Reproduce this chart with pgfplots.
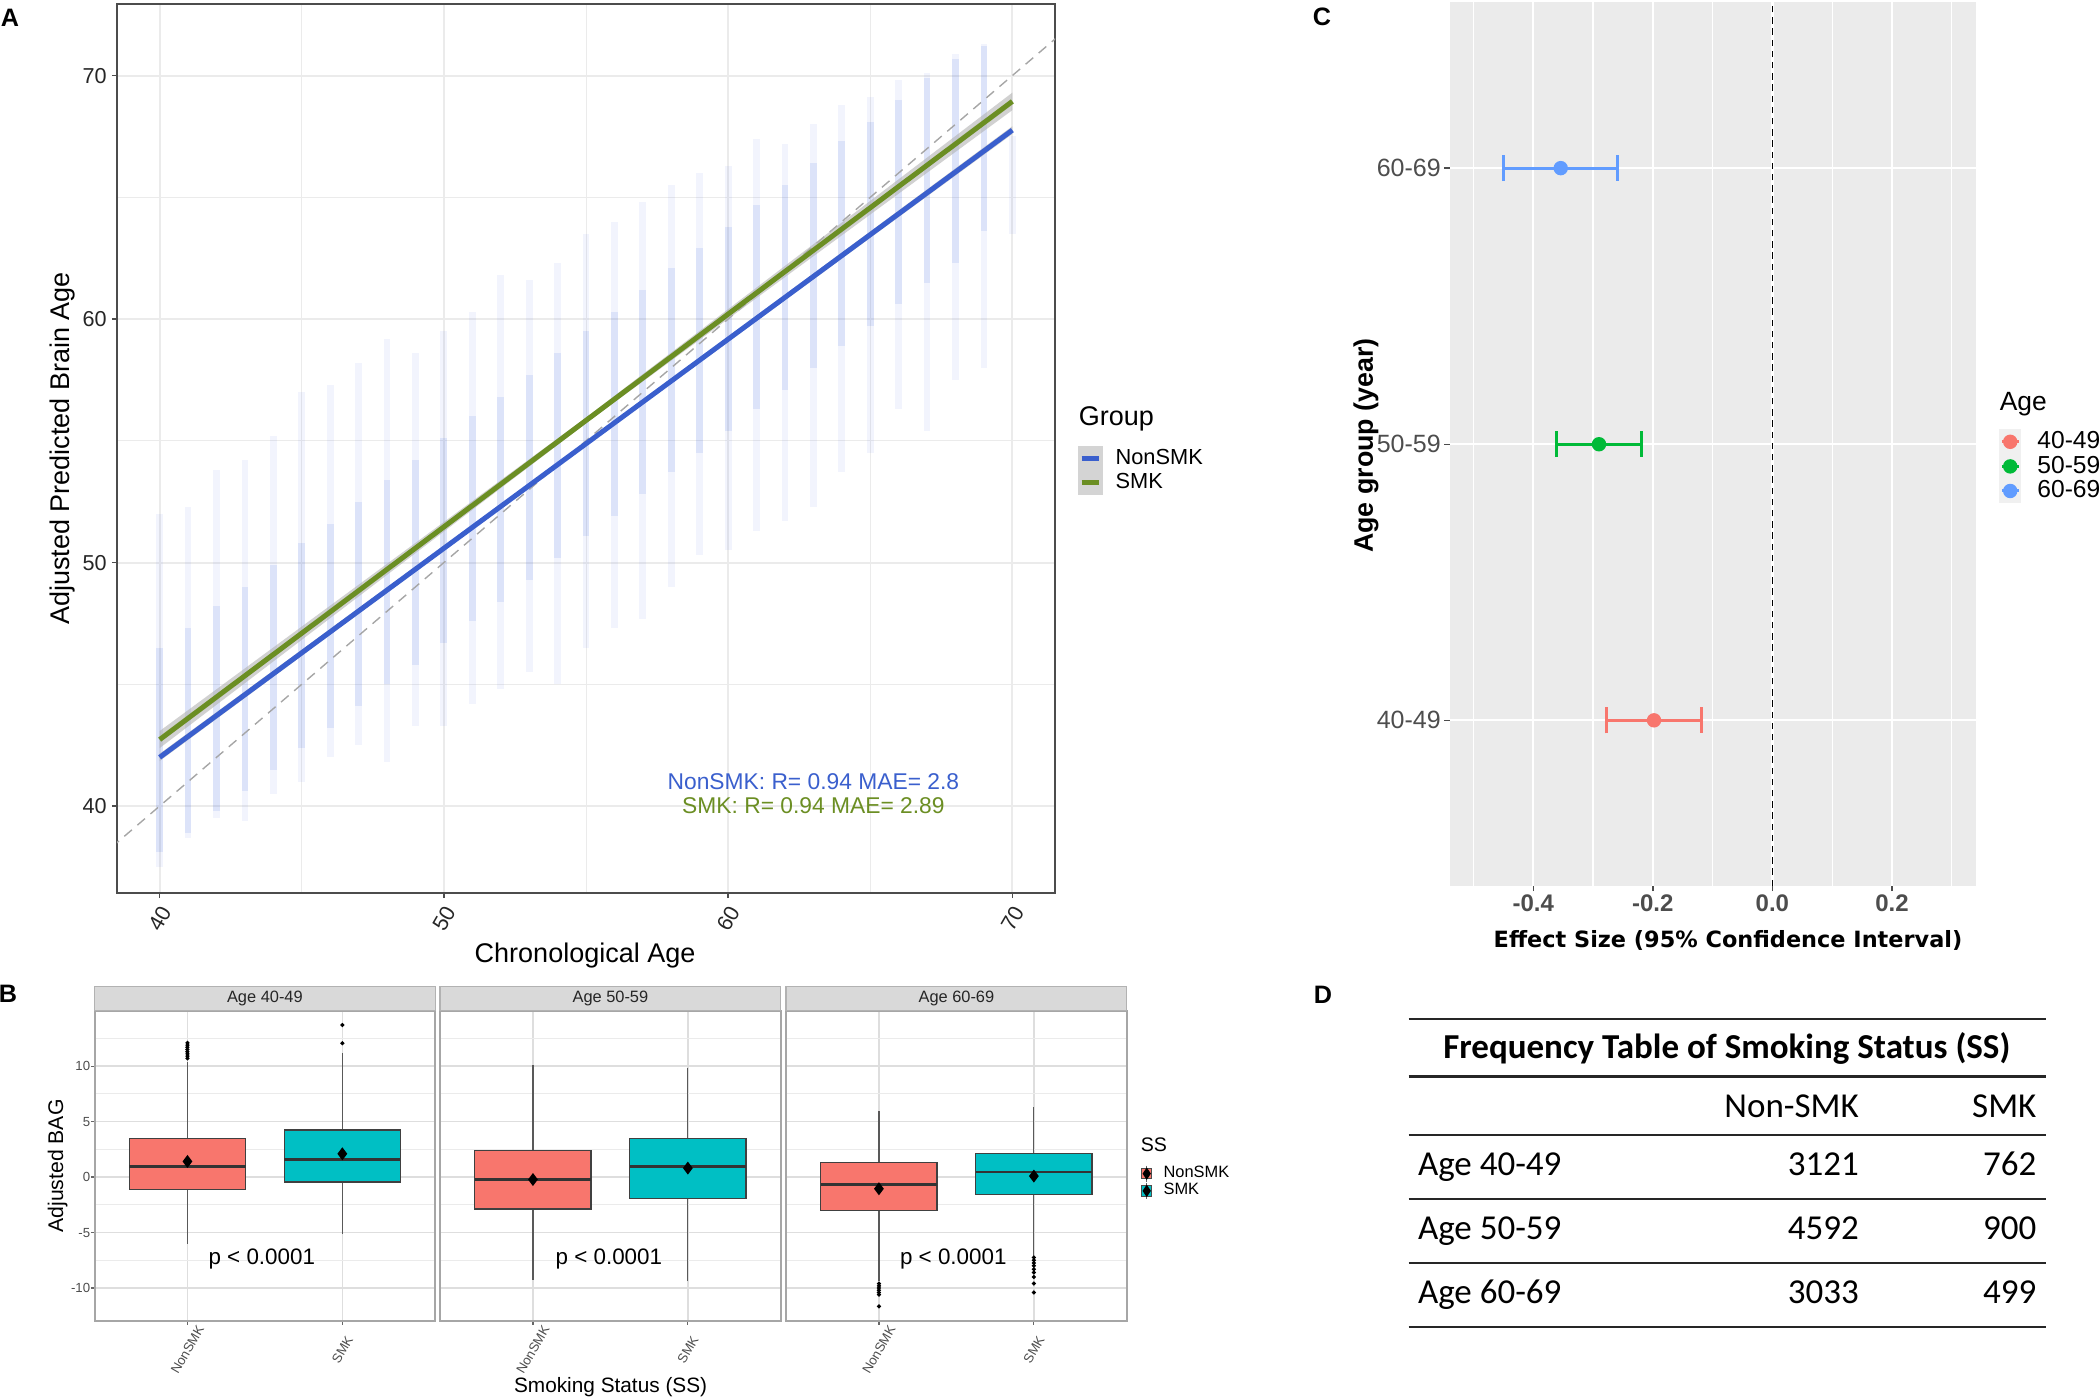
\documentclass[border=0pt]{standalone}
\usepackage{fontspec}
\setmainfont{Liberation Sans}
\newfontfamily\dejavu{DejaVu Sans}
\newfontfamily\carlito{Carlito}
\usepackage{pgfplots}
\usepackage{pgfplotstable}
\usepgfplotslibrary{statistics}
\pgfplotsset{compat=1.18}
\newcommand{\fs}[1]{\fontsize{#1pt}{#1pt}\selectfont}
\definecolor{nsblue}{HTML}{3A5FCD}
\definecolor{smkgreen}{HTML}{6B8E23}
\definecolor{scat}{HTML}{4169E1}
\definecolor{ggred}{HTML}{F8766D}
\definecolor{ggcyan}{HTML}{00BFC4}
\definecolor{gggreen}{HTML}{00BA38}
\definecolor{ggblue}{HTML}{619CFF}
\definecolor{panelgrey}{HTML}{EBEBEB}
\definecolor{gridA}{HTML}{EBEBEB}
\definecolor{tickgrey}{HTML}{4D4D4D}

\pgfplotstableread{
x m e
40 44.75 7.25
41 45.50 6.80
42 46.65 7.15
43 46.80 7.40
44 47.85 7.35
45 49.00 8.00
46 49.65 7.65
47 50.35 7.85
48 50.50 8.70
49 50.95 7.65
50 51.40 8.10
51 52.25 8.05
52 53.30 8.50
53 53.55 8.05
54 53.65 8.65
55 55.00 8.50
56 55.65 8.35
57 56.25 8.55
58 57.25 8.25
59 58.15 7.85
60 58.40 7.90
61 59.35 8.05
62 59.45 7.75
63 60.15 7.85
64 61.25 7.55
65 61.80 7.30
66 63.05 6.75
67 62.75 7.35
68 64.20 6.70
69 64.65 6.65
70 65.50 2.00
}\rangetab

\pgfplotstableread{
x c e
40 42.3 4.2
41 43.1 4.2
42 44.0 4.2
43 44.8 4.2
44 45.7 4.2
45 46.6 4.2
46 47.4 4.2
47 48.3 4.2
48 49.2 4.2
49 50.0 4.2
50 50.9 4.2
51 51.8 4.2
52 52.6 4.2
53 53.5 4.2
54 54.4 4.2
55 55.3 4.2
56 56.1 4.2
57 57.0 4.2
58 57.9 4.2
59 58.7 4.2
60 59.6 4.2
61 60.5 4.2
62 61.3 4.2
63 62.2 4.2
64 63.1 4.2
65 63.9 4.2
66 64.8 4.2
67 65.7 4.2
68 66.5 4.2
69 67.4 3.8
}\coretab

\pgfplotsset{
  facet/.style={
    anchor=north west, scale only axis, width=85.2pt, height=77.5pt,
    xmin=0.4, xmax=2.6, ymin=-12.97, ymax=14.97,
    xtick={1,2}, xticklabels={NonSMK,SMK},
    ytick={-10,-5,0,5,10}, yticklabels={-10,-5,0,5,10},
    minor ytick={-7.5,-2.5,2.5,7.5,12.5},
    grid=both,
    major grid style={draw=black!13, line width=0.35pt},
    minor grid style={draw=black!8, line width=0.2pt},
    axis line style={draw=black!35, line width=0.5pt},
    tick pos=left, tick align=outside,
    major tick length=0.9pt, minor tick length=0pt,
    tick style={draw=black!60, line width=0.3pt},
    xticklabel style={font=\fs{3.3}, text=tickgrey, inner sep=0pt, anchor=center, yshift=-6.3pt, rotate=60},
    yticklabel style={font=\fs{3.3}, text=tickgrey, inner sep=0pt, anchor=east, xshift=0pt},
    every axis title/.style={at={(0.5,1)}, anchor=south, fill=black!15, draw=black!30, line width=0.3pt,
      minimum width=85.2pt, minimum height=5.9pt, inner sep=0pt, font=\fs{4.1}, text=black!85},
    boxplot/draw direction=y,
    boxplot/box extend=0.75,
    boxplot/whisker extend=0,
    boxplot/every median/.style={line width=0.7pt, draw=black!80},
    boxplot/every whisker/.style={line width=0.3pt, draw=black!65},
    boxplot/every box/.style={line width=0.3pt, draw=black!75},
  },
  bx/.style={draw=black!75, line width=0.3pt, mark=*, mark size=0.35pt, mark options={fill=black, draw=black}},
  meanpt/.style={only marks, mark=diamond*, mark size=1.3pt, black, forget plot},
  cibar/.style={forget plot, only marks, mark=*, mark size=1.6pt, color=#1,
    error bars/.cd, x dir=both, x explicit, error mark=|,
    error bar style={line width=0.75pt, #1},
    error mark options={line width=0.75pt, #1, mark size=3.25pt}},
}

\begin{document}
\begin{tikzpicture}
\path[use as bounding box] (0pt,0pt) rectangle (525pt,-349.75pt);

% ---------------- Panel A ----------------
\begin{axis}[
  at={(29.25pt,-1pt)}, anchor=north west, scale only axis,
  width=234.5pt, height=222.25pt,
  xmin=38.5, xmax=71.5, ymin=36.43, ymax=72.94,
  xtick={40,50,60,70}, xticklabels={40,50,60,70},
  ytick={40,50,60,70}, yticklabels={40,50,60,70},
  minor xtick={45,55,65}, minor ytick={45,55,65},
  grid=both,
  major grid style={draw=gridA, line width=0.5pt},
  minor grid style={draw=gridA, line width=0.25pt},
  axis line style={draw=black!70, line width=0.45pt},
  tick pos=left, tick align=outside,
  major tick length=1.3pt, minor tick length=0pt,
  tick style={draw=black!70, line width=0.4pt},
  xticklabel style={font=\fs{5.4}, text=black!85, inner sep=0pt, anchor=center, yshift=-5.1pt, rotate=60},
  yticklabel style={font=\fs{5.4}, text=black!85, inner sep=0pt, anchor=east, xshift=-1.1pt},
  xlabel={Chronological Age},
  xlabel style={font=\fs{6.75}, at={(axis description cs:0.499,-0.07)}, anchor=center},
  ylabel={Adjusted Predicted Brain Age},
  ylabel style={font=\fs{6.75}, at={(axis description cs:-0.0576,0.5)}, anchor=center},
  legend style={at={(1.0245,0.5028)}, anchor=north west, draw=none, fill=none,
    font=\fs{5.45}, inner sep=0pt, outer sep=0pt, row sep=0pt,
    nodes={inner sep=0pt, text height=4.0pt, text depth=1.0pt},
    /tikz/every odd column/.append style={column sep=3.25pt}},
  legend cell align=left,
  legend image code/.code={\fill[black!17] (0pt,-2.85pt) rectangle (5.75pt,2.85pt);
     \draw[#1, line width=1.2pt] (0.7pt,0pt) -- (5.05pt,0pt);},
]
\addplot[draw=none, mark=none, forget plot,
  error bars/.cd, y dir=both, y explicit, error mark=none,
  error bar style={draw=scat, opacity=0.07, line width=1.7pt}]
  table[x=x, y=m, y error=e] {\rangetab};
\addplot[draw=none, mark=none, forget plot,
  error bars/.cd, y dir=both, y explicit, error mark=none,
  error bar style={draw=scat, opacity=0.12, line width=1.7pt}]
  table[x=x, y=c, y error=e] {\coretab};
\addplot[black!35, line width=0.35pt, dash pattern=on 2.5pt off 1.8pt, forget plot]
  coordinates {(36,36) (74,74)};
\addplot[fill=black!30, draw=none, fill opacity=0.6, forget plot]
  coordinates {(40,41.85) (55,54.80) (70,67.60) (70,67.92) (55,54.96) (40,42.15)} -- cycle;
\addplot[fill=black!30, draw=none, fill opacity=0.6, forget plot]
  coordinates {(40,42.38) (55,55.72) (70,68.58) (70,69.30) (55,55.96) (40,43.08)} -- cycle;
\addplot[nsblue, line width=1.25pt, forget plot] coordinates {(40,42.0) (70,67.76)};
\addplot[smkgreen, line width=1.25pt, forget plot] coordinates {(40,42.73) (70,68.94)};
\node[font=\fs{5.7}, text=nsblue] at (axis cs:63.0,41.0) {NonSMK: R= 0.94 MAE= 2.8};
\node[font=\fs{5.7}, text=smkgreen] at (axis cs:63.0,40.0) {SMK: R= 0.94 MAE= 2.89};
\addlegendimage{nsblue}
\addlegendentry{NonSMK}
\addlegendimage{smkgreen}
\addlegendentry{SMK}
\end{axis}
\node[font=\fs{6.75}, anchor=west, inner sep=0pt] at (269.5pt,-104.75pt) {Group};

% ---------------- Panel B ----------------
\begin{axis}[facet, at={(23.625pt,-252.75pt)}, title={Age 40-49},
  ylabel={Adjusted BAG},
  ylabel style={font=\fs{5.3}, at={(axis description cs:-0.108,0.5)}, anchor=center}]
\addplot[bx, fill=ggred, boxplot prepared={draw position=1, lower whisker=-6.0, lower quartile=-1.11,
  median=0.93, upper quartile=3.5, upper whisker=10.4}]
  table[row sep=\\, y index=0] {y\\ 10.7\\ 10.9\\ 11.1\\ 11.3\\ 11.5\\ 11.7\\ 11.9\\ 12.1\\};
\addplot[bx, fill=ggcyan, boxplot prepared={draw position=2, lower whisker=-5.1, lower quartile=-0.45,
  median=1.56, upper quartile=4.25, upper whisker=11.2}]
  table[row sep=\\, y index=0] {y\\ 12.07\\ 13.7\\};
\addplot[meanpt] coordinates {(1,1.41) (2,2.10)};
\node[font=\fs{5.6}] at (axis cs:1.48,-7.4) {p < 0.0001};
\end{axis}

\begin{axis}[facet, at={(110pt,-252.75pt)}, title={Age 50-59},
  yticklabels={}, ytick style={draw=none}]
\addplot[bx, fill=ggred, boxplot prepared={draw position=1, lower whisker=-9.25, lower quartile=-2.87,
  median=-0.24, upper quartile=2.43, upper whisker=10.1}] coordinates {};
\addplot[bx, fill=ggcyan, boxplot prepared={draw position=2, lower whisker=-9.37, lower quartile=-1.95,
  median=0.93, upper quartile=3.5, upper whisker=9.82}] coordinates {};
\addplot[meanpt] coordinates {(1,-0.22) (2,0.81)};
\node[font=\fs{5.6}] at (axis cs:1.49,-7.4) {p < 0.0001};
\end{axis}

\begin{axis}[facet, at={(196.5pt,-252.75pt)}, title={Age 60-69},
  yticklabels={}, ytick style={draw=none},
  legend style={at={(1.0417,0.503)}, anchor=north west, draw=none, fill=none,
    font=\fs{4.1}, inner sep=0pt, outer sep=0pt, row sep=0pt,
    nodes={inner sep=0pt, text height=3.0pt, text depth=1.0pt},
    /tikz/every odd column/.append style={column sep=2.8pt}},
  legend cell align=left,
  legend image code/.code={\draw[black!60, line width=0.3pt] (1.6pt,-2pt) -- (1.6pt,2pt);
     \path[#1, draw=black!70, line width=0.25pt] (0.3pt,-1.3pt) rectangle (2.9pt,1.3pt);
     \fill[black] (1.6pt,-1.2pt) -- (2.4pt,0pt) -- (1.6pt,1.2pt) -- (0.8pt,0pt) -- cycle;}]
\addplot[bx, fill=ggred, forget plot, boxplot prepared={draw position=1, lower whisker=-9.4, lower quartile=-3.0,
  median=-0.66, upper quartile=1.35, upper whisker=5.99}]
  table[row sep=\\, y index=0] {y\\ -9.6\\ -9.8\\ -10.0\\ -10.2\\ -10.4\\ -10.6\\ -11.65\\};
\addplot[bx, fill=ggcyan, forget plot, boxplot prepared={draw position=2, lower whisker=-7.1, lower quartile=-1.56,
  median=0.45, upper quartile=2.16, upper whisker=6.29}]
  table[row sep=\\, y index=0] {y\\ -7.25\\ -7.5\\ -7.75\\ -8.0\\ -8.3\\ -8.6\\ -9.0\\ -9.6\\ -10.4\\};
\addplot[meanpt] coordinates {(1,-1.05) (2,0.09)};
\node[font=\fs{5.6}] at (axis cs:1.48,-7.4) {p < 0.0001};
\addlegendimage{fill=ggred}
\addlegendentry{NonSMK}
\addlegendimage{fill=ggcyan}
\addlegendentry{SMK}
\end{axis}
\node[font=\fs{5.2}, anchor=base] at (152.65pt,-348pt) {Smoking Status (SS)};
\node[font=\fs{4.9}, anchor=west, inner sep=0pt] at (285pt,-286.25pt) {SS};

% ---------------- Panel C ----------------
\begin{axis}[
  at={(362.375pt,-0.625pt)}, anchor=north west, scale only axis,
  width=131.625pt, height=220.875pt,
  xmin=-0.54, xmax=0.3405, ymin=0.4, ymax=3.6,
  axis background/.style={fill=panelgrey},
  axis line style={draw=none},
  xtick={-0.4,-0.2,0,0.2}, xticklabels={-0.4,-0.2,0.0,0.2},
  minor xtick={-0.5,-0.3,-0.1,0.1,0.3},
  ytick={1,2,3}, yticklabels={40-49,50-59,60-69},
  grid=both,
  major grid style={draw=white, line width=0.55pt},
  minor grid style={draw=white, line width=0.3pt},
  tick pos=left, tick align=outside,
  major tick length=1.3pt, minor tick length=0pt,
  tick style={draw=black!70, line width=0.35pt},
  xticklabel style={font=\bfseries\fs{6}, text=tickgrey, inner sep=0pt, anchor=north, yshift=-0.8pt},
  yticklabel style={font=\fs{6.25}, text=tickgrey, inner sep=0pt, anchor=east, xshift=-0.7pt},
  legend style={at={(1.0437,0.5167)}, anchor=north west, draw=none, fill=none,
    font=\fs{6.15}, inner sep=0pt, outer sep=0pt, row sep=0pt,
    nodes={inner sep=0pt, text height=4.6pt, text depth=1.15pt},
    /tikz/every odd column/.append style={column sep=4pt}},
  legend cell align=left,
  legend image code/.code={\fill[black!6] (0pt,-2.875pt) rectangle (5.2pt,2.875pt);
     \draw[#1, line width=0.75pt] (0.5pt,0pt) -- (4.7pt,0pt);
     \fill[#1] (2.6pt,0pt) circle (1.6pt);},
]
\addplot[black, line width=0.45pt, dash pattern=on 1.6pt off 1.2pt, forget plot]
  coordinates {(0,0.4) (0,3.6)};
\addplot[cibar=ggred] coordinates {(-0.198,1) +- (0.079,0)};
\addplot[cibar=gggreen] coordinates {(-0.290,2) +- (0.0715,0)};
\addplot[cibar=ggblue] coordinates {(-0.354,3) +- (0.0955,0)};
\addlegendimage{ggred}
\addlegendentry{40-49}
\addlegendimage{gggreen}
\addlegendentry{50-59}
\addlegendimage{ggblue}
\addlegendentry{60-69}
\end{axis}
\node[font=\dejavu\bfseries\fs{5.6}] at (432pt,-235pt) {Effect Size (95\% Confidence Interval)};
\node[font=\bfseries\fs{6.7}, rotate=90] at (341.5pt,-111.4pt) {Age group (year)};
\node[font=\fs{6.6}, anchor=west, inner sep=0pt] at (499.75pt,-101pt) {Age};

% ---------------- Panel D ----------------
\begin{scope}[font=\carlito\fs{8.75}]
\foreach \yy in {254.85,269.125,283.75,299.65,315.75,331.75}
  \draw[black!85, line width=0.55pt] (352.175pt,-\yy pt) -- (511.6pt,-\yy pt);
\node[anchor=base, inner sep=0pt, font=\carlito\bfseries\fs{8.75}] at (431.7pt,-264.75pt) {Frequency Table of Smoking Status (SS)};
\node[anchor=base east, inner sep=0pt] at (464.9pt,-279.45pt) {Non-SMK};
\node[anchor=base east, inner sep=0pt] at (509.3pt,-279.45pt) {SMK};
\node[anchor=base west, inner sep=0pt] at (354.3pt,-293.8pt) {Age 40-49};
\node[anchor=base east, inner sep=0pt] at (464.9pt,-293.8pt) {3121};
\node[anchor=base east, inner sep=0pt] at (509.3pt,-293.8pt) {762};
\node[anchor=base west, inner sep=0pt] at (354.3pt,-309.97pt) {Age 50-59};
\node[anchor=base east, inner sep=0pt] at (464.9pt,-309.97pt) {4592};
\node[anchor=base east, inner sep=0pt] at (509.3pt,-309.97pt) {900};
\node[anchor=base west, inner sep=0pt] at (354.3pt,-325.97pt) {Age 60-69};
\node[anchor=base east, inner sep=0pt] at (464.9pt,-325.97pt) {3033};
\node[anchor=base east, inner sep=0pt] at (509.3pt,-325.97pt) {499};
\end{scope}

% panel letters
\node[font=\bfseries\fs{6.3}] at (2.5pt,-4.5pt) {A};
\node[font=\bfseries\fs{6.3}] at (2pt,-248.5pt) {B};
\node[font=\bfseries\fs{6.3}] at (330.5pt,-4.25pt) {C};
\node[font=\bfseries\fs{6.3}] at (330.75pt,-248.75pt) {D};
\end{tikzpicture}
\end{document}
